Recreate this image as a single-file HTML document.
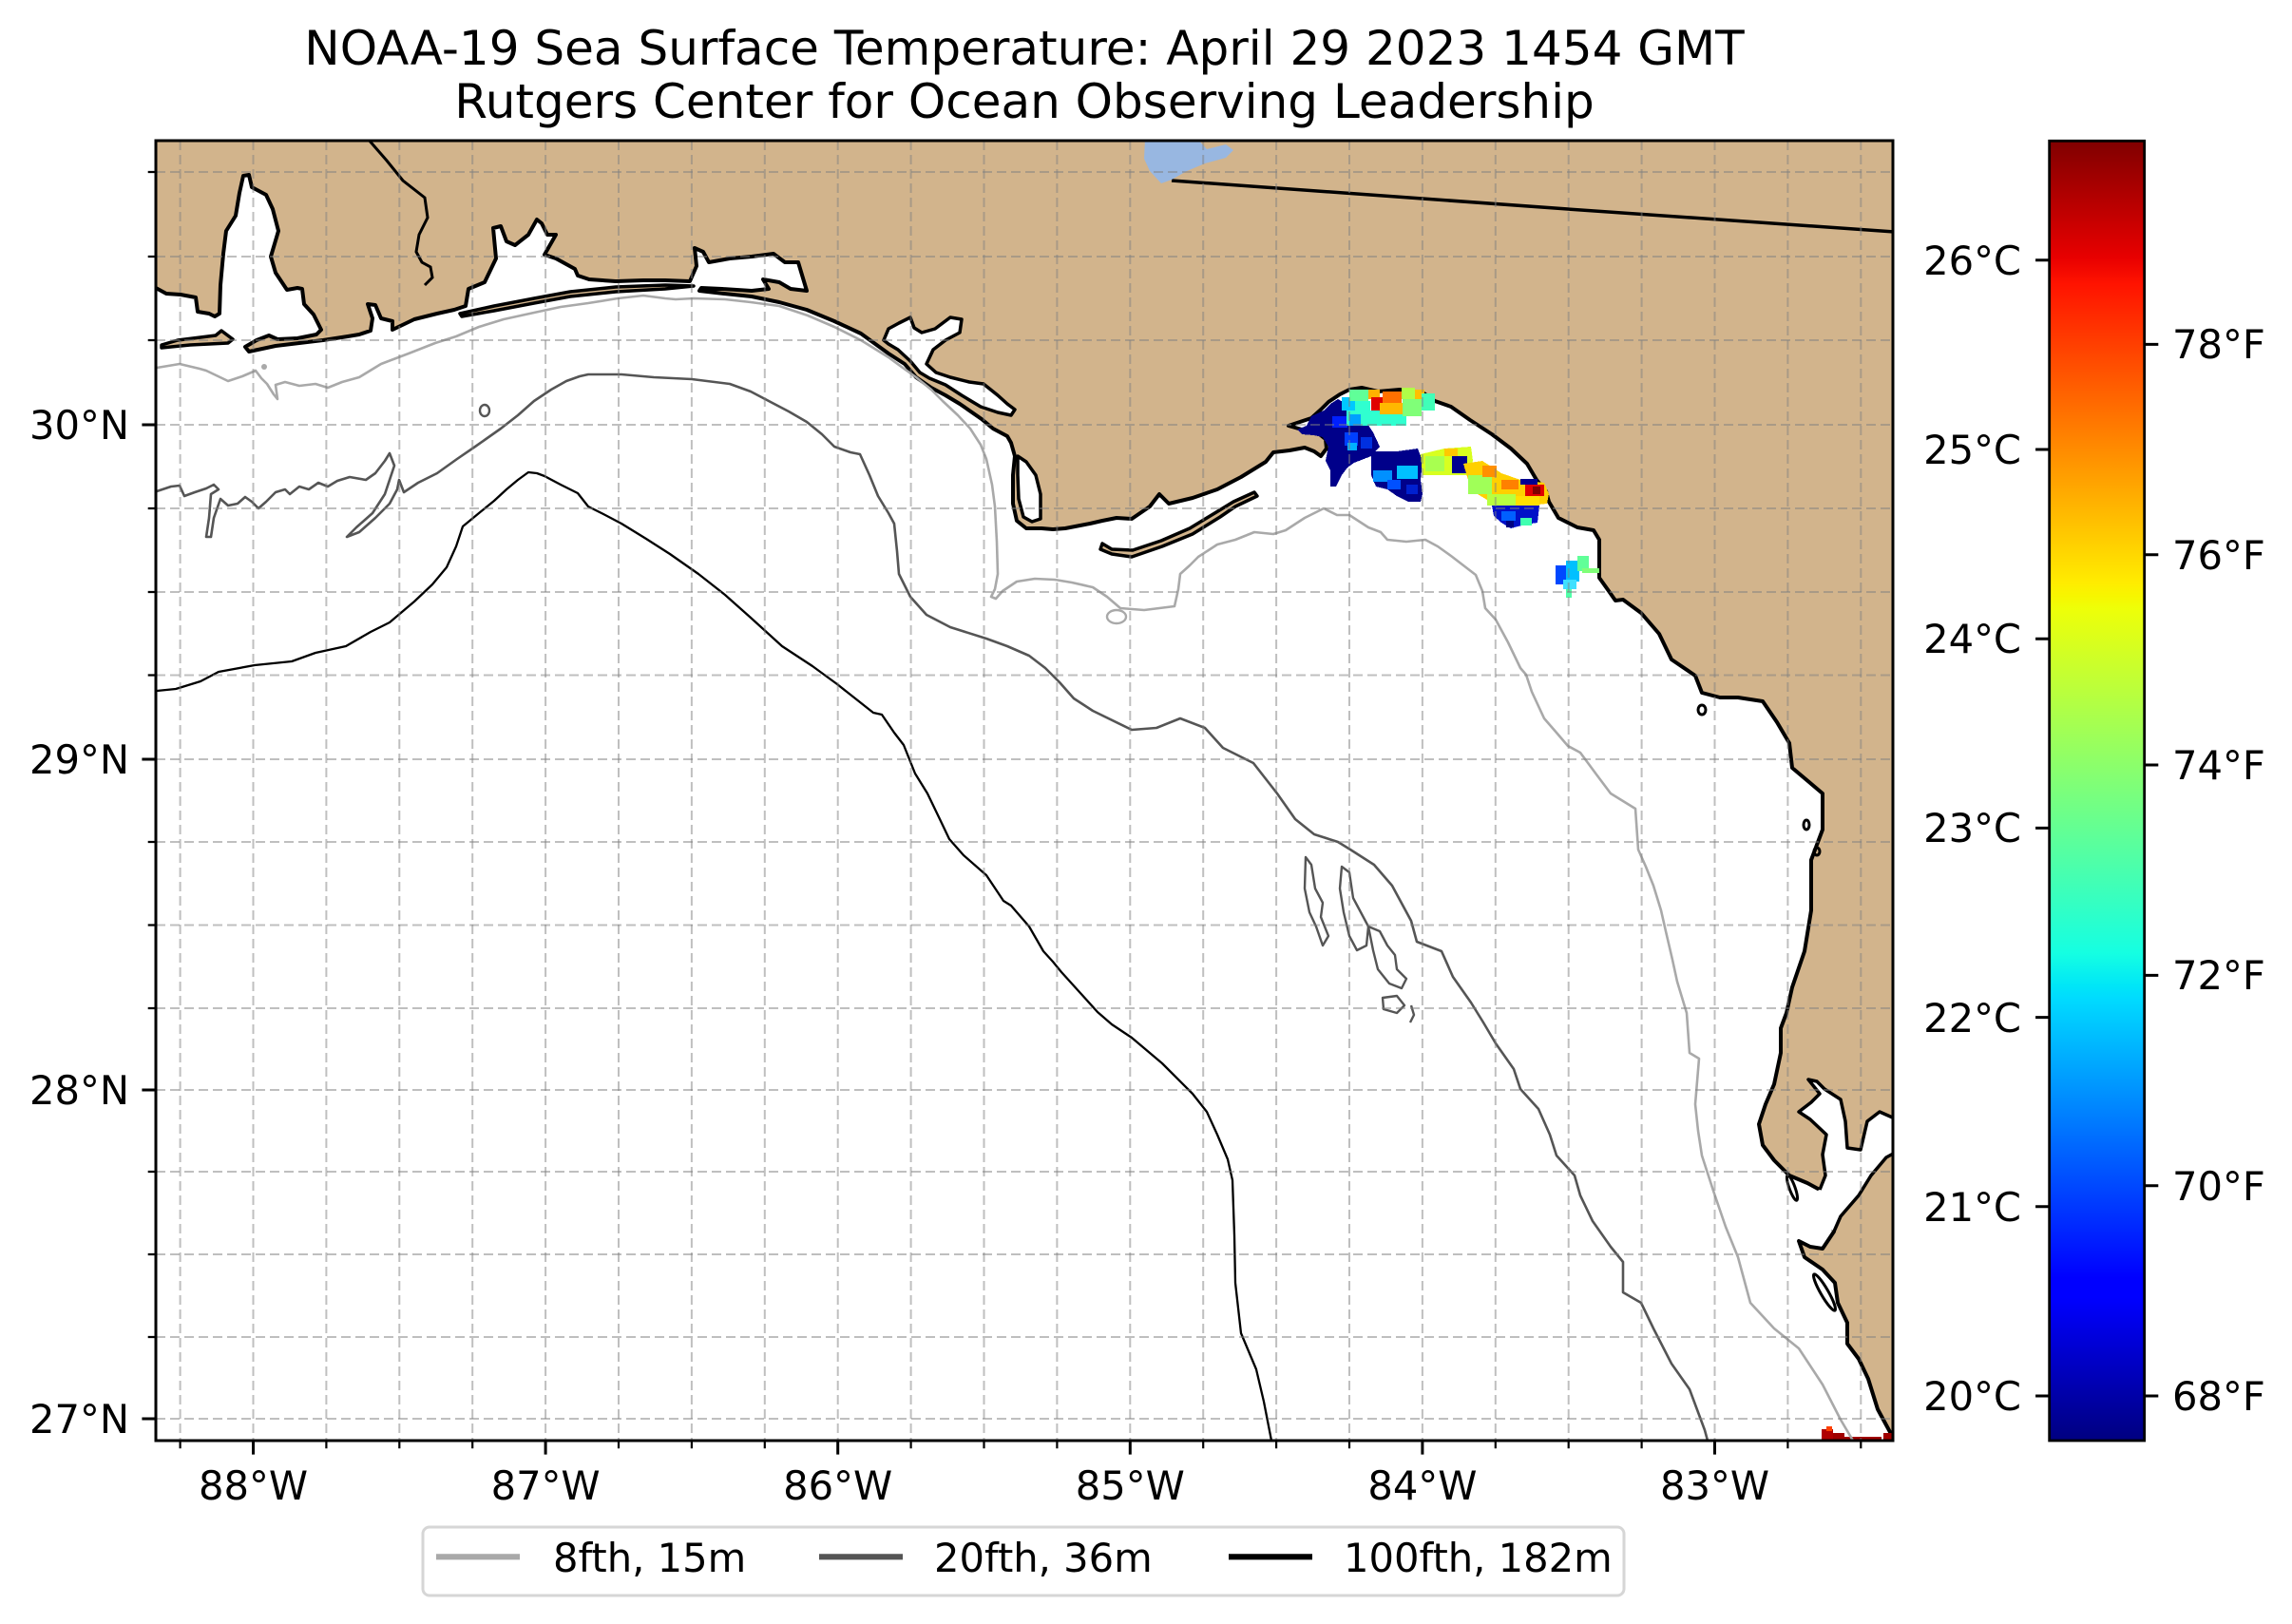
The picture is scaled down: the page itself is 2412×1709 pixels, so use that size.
<!DOCTYPE html>
<html><head><meta charset="utf-8"><style>
html,body{margin:0;padding:0;background:#fff;}
svg{display:block;}
text{font-family:"DejaVu Sans","Liberation Sans",sans-serif;fill:#000;}
</style></head><body>
<svg width="2412" height="1709" viewBox="0 0 2412 1709" xmlns="http://www.w3.org/2000/svg">
<defs>
<clipPath id="ax"><rect x="164" y="148" width="1828" height="1368"/></clipPath>
<linearGradient id="jet" x1="0" y1="1" x2="0" y2="0">
<stop offset="0" stop-color="#000080"/><stop offset="0.11" stop-color="#0000ff"/><stop offset="0.125" stop-color="#0000ff"/>
<stop offset="0.34" stop-color="#00dbff"/><stop offset="0.35" stop-color="#00e6f7"/><stop offset="0.375" stop-color="#15ffe2"/>
<stop offset="0.64" stop-color="#eeff08"/><stop offset="0.65" stop-color="#f7f600"/><stop offset="0.66" stop-color="#ffec00"/>
<stop offset="0.89" stop-color="#ff1300"/><stop offset="0.91" stop-color="#e80000"/><stop offset="1" stop-color="#800000"/>
</linearGradient>
</defs>
<rect width="2412" height="1709" fill="#fff"/>

<text x="1078" y="68" font-size="50" text-anchor="middle">NOAA-19 Sea Surface Temperature: April 29 2023 1454 GMT</text>
<text x="1078" y="124" font-size="50" text-anchor="middle">Rutgers Center for Ocean Observing Leadership</text>

<g clip-path="url(#ax)">
<rect x="164" y="148" width="1828" height="1368" fill="#fff"/>
<!-- land -->
<polygon fill="#d2b48c" stroke="#000" stroke-width="4" stroke-linejoin="round" points="164,303 175,309 190,310 206,313 208,328 220,330 226,333 231,330 232,300 235,267 238,243 248,227 252,203 256,185 262,184 265,197 280,205 287,220 293,243 285,270 290,287 302,305 313,303 318,304 320,320 330,331 338,347 333,352 313,356 292,357 283,353 270,358 258,365 262,370 290,364 315,361 340,358 366,354 378,352 390,348 392,335 387,320 395,321 401,335 413,338 413,347 436,336 460,330 478,326 490,322 493,304 510,297 522,272 519,240 527,238 533,254 542,258 556,247 565,231 570,235 576,247 585,247 573,268 585,272 605,283 608,290 620,294 648,296 677,295 700,295 726,296 733,280 731,261 740,265 746,276 768,272 791,270 814,267 826,276 840,276 849,306 832,304 820,297 803,294 809,304 791,306 760,304 738,303 736,306 762,309 791,312 820,318 849,326 878,338 906,351 935,372 952,383 964,397 980,408 995,416 1010,425 1033,441 1045,451 1060,459 1064,466 1068,480 1066,500 1066,530 1070,548 1080,556 1096,556 1108,557 1121,556 1147,551 1160,548 1175,545 1191,546 1210,533 1220,520 1230,530 1255,524 1281,515 1306,502 1332,486 1340,476 1357,474 1373,471 1383,475 1390,480 1396,472 1395,462 1386,455 1370,452 1356,448 1368,444 1380,440 1390,431 1398,423 1410,415 1420,410 1433,408 1450,412 1473,410 1497,413 1510,422 1527,428 1547,442 1570,457 1590,472 1607,488 1617,505 1627,517 1630,528 1640,545 1660,555 1677,558 1683,568 1683,595 1683,608 1693,622 1700,632 1708,631 1727,645 1746,667 1759,694 1784,711 1791,729 1810,734 1829,734 1855,738 1870,760 1883,782 1886,808 1905,824 1918,835 1918,873 1906,905 1906,958 1899,1001 1886,1039 1880,1066 1874,1082 1874,1108 1867,1141 1858,1162 1851,1183 1855,1205 1867,1221 1883,1237 1902,1245 1915,1252 1925,1275 1930,1296 1918,1314 1905,1312 1893,1306 1899,1323 1918,1336 1931,1350 1934,1371 1944,1392 1944,1414 1956,1430 1966,1451 1976,1483 1996,1520 1996,144 160,144 160,303"/>
<!-- bays -->
<polygon fill="#fff" stroke="#000" stroke-width="3.5" stroke-linejoin="round" points="930,358 935,346 946,340 958,334 962,345 970,350 984,346 1000,334 1012,336 1010,350 995,358 982,368 975,383 985,392 1000,397 1020,402 1035,404 1050,416 1060,425 1068,431 1064,437 1050,434 1032,428 1012,416 995,405 978,398 968,392 958,380 945,368 935,362"/>
<polygon fill="#fff" stroke="#000" stroke-width="3.5" stroke-linejoin="round" points="1071,480 1080,486 1090,500 1095,520 1095,546 1086,549 1077,544 1072,525 1071,500"/>
<polygon fill="#fff" points="1915,1252 1921,1237 1918,1215 1922,1194 1905,1178 1893,1170 1906,1160 1915,1151 1903,1136 1912,1138 1920,1146 1937,1157 1942,1180 1944,1208 1958,1210 1965,1180 1978,1170 1996,1178 1996,1212 1985,1218 1969,1237 1956,1258 1937,1280 1930,1296 1910,1280 1908,1255"/>
<polyline fill="none" stroke="#000" stroke-width="3.5" stroke-linejoin="round" points="1915,1252 1921,1237 1918,1215 1922,1194 1905,1178 1893,1170 1906,1160 1915,1151 1903,1136 1912,1138 1920,1146 1937,1157 1942,1180 1944,1208 1958,1210 1965,1180 1978,1170 1996,1178"/>
<polyline fill="none" stroke="#000" stroke-width="3.5" stroke-linejoin="round" points="1996,1212 1985,1218 1969,1237 1956,1258 1937,1280 1930,1296"/>
<!-- islands -->
<g fill="#d2b48c" stroke="#000" stroke-width="3.5" stroke-linejoin="round">
<polygon points="170,363 187,358 227,353 233,348 245,357 240,361 200,363 170,366"/>
<polygon points="484,330 520,322 562,314 600,307 648,302 700,300 730,301 700,304 648,307 600,312 562,319 520,327 486,333"/>
<polygon points="1158,578 1170,583 1191,586 1223,575 1255,562 1284,544 1300,533 1323,522 1320,518 1298,528 1280,539 1252,556 1222,569 1192,579 1170,578 1160,572"/>
</g>
<g fill="none" stroke="#000" stroke-width="3">
<ellipse cx="1791" cy="747" rx="4" ry="5"/>
<ellipse cx="1901" cy="868" rx="3" ry="5"/>
<ellipse cx="1912" cy="896" rx="3" ry="4"/>
<ellipse cx="1886" cy="1250" rx="3" ry="14" transform="rotate(-20 1886 1250)"/>
<ellipse cx="1920" cy="1360" rx="4" ry="22" transform="rotate(-30 1920 1360)"/>
</g>

<!-- SST -->
<g shape-rendering="crispEdges">
<polygon fill="#00008a" points="1380,438 1393,432 1400,425 1408,420 1420,427 1435,440 1445,455 1452,470 1443,480 1425,487 1418,492 1412,500 1406,512 1400,512 1400,495 1395,485 1398,470 1392,460 1382,458 1370,457 1365,452 1375,448"/>
<rect x="1402" y="438" width="16" height="12" fill="#0020ff"/>
<rect x="1415" y="455" width="14" height="14" fill="#0040ff"/>
<rect x="1418" y="466" width="10" height="8" fill="#00b0ff"/>
<rect x="1432" y="460" width="12" height="12" fill="#0030e0"/>
<rect x="1412" y="418" width="14" height="14" fill="#00c8ff"/>
<rect x="1420" y="410" width="20" height="12" fill="#60ff98"/>
<rect x="1426" y="422" width="16" height="16" fill="#30ffd0"/>
<rect x="1417" y="432" width="63" height="16" fill="#30ffd0"/>
<rect x="1420" y="436" width="12" height="12" fill="#00a0ff"/>
<rect x="1440" y="410" width="12" height="10" fill="#ffb000"/>
<rect x="1455" y="412" width="20" height="12" fill="#ff7000"/>
<rect x="1443" y="418" width="12" height="14" fill="#e00000"/>
<rect x="1452" y="424" width="24" height="12" fill="#ffb800"/>
<rect x="1475" y="408" width="14" height="12" fill="#b0ff48"/>
<rect x="1476" y="420" width="20" height="18" fill="#80ff78"/>
<rect x="1489" y="410" width="10" height="10" fill="#ffc000"/>
<rect x="1496" y="414" width="14" height="18" fill="#40ffb8"/>
<polygon fill="#00008a" points="1443,475 1470,475 1492,472 1497,485 1495,505 1497,520 1495,528 1482,528 1470,522 1460,515 1448,512 1443,500"/>
<rect x="1445" y="495" width="20" height="12" fill="#0090ff"/>
<rect x="1470" y="490" width="22" height="14" fill="#00c0ff"/>
<rect x="1460" y="505" width="14" height="10" fill="#0050ff"/>
<rect x="1480" y="510" width="12" height="10" fill="#0020d0"/>
<polygon fill="#d8ff20" points="1495,478 1520,472 1548,470 1550,485 1545,500 1520,500 1497,500"/>
<rect x="1500" y="480" width="20" height="16" fill="#a8ff50"/>
<rect x="1520" y="472" width="14" height="8" fill="#ffc800"/>
<rect x="1528" y="480" width="16" height="18" fill="#000090"/>
<polygon fill="#ffd000" points="1540,488 1560,485 1580,498 1600,505 1625,508 1630,520 1628,530 1600,533 1575,532 1555,520 1545,505"/>
<rect x="1545" y="500" width="25" height="20" fill="#a0ff58"/>
<rect x="1560" y="490" width="15" height="12" fill="#ff9000"/>
<rect x="1580" y="505" width="18" height="10" fill="#ff8000"/>
<rect x="1600" y="504" width="18" height="6" fill="#000090"/>
<rect x="1605" y="510" width="20" height="12" fill="#e00000"/>
<rect x="1613" y="512" width="8" height="8" fill="#800000"/>
<rect x="1565" y="520" width="30" height="12" fill="#b8ff40"/>
<rect x="1595" y="522" width="25" height="10" fill="#ffe000"/>
<polygon fill="#0010c8" points="1570,532 1620,532 1618,550 1605,552 1590,556 1580,550 1572,543"/>
<rect x="1580" y="538" width="15" height="10" fill="#0060ff"/>
<rect x="1600" y="545" width="12" height="8" fill="#40ffb0"/>
<rect x="1585" y="548" width="8" height="7" fill="#000080"/>
<rect x="1637" y="595" width="13" height="20" fill="#0048ff"/>
<rect x="1648" y="590" width="14" height="22" fill="#00c0ff"/>
<rect x="1660" y="585" width="12" height="16" fill="#60ff98"/>
<rect x="1665" y="598" width="18" height="5" fill="#80ff78"/>
<rect x="1645" y="610" width="14" height="10" fill="#40e0ff"/>
<rect x="1648" y="620" width="6" height="9" fill="#50ffa8"/>
<rect x="1917" y="1504" width="12" height="12" fill="#b00000"/>
<rect x="1922" y="1501" width="6" height="5" fill="#ff4000"/>
<rect x="1929" y="1508" width="12" height="8" fill="#a00000"/>
<rect x="1940" y="1512" width="40" height="4" fill="#a00000"/>
<rect x="1982" y="1508" width="10" height="8" fill="#a00000"/>
</g>

<!-- contours -->
<g fill="none" stroke-linejoin="round">
<polyline stroke="#a9a9a9" stroke-width="2.6" points="165,387 189,383 210,388 217,390 240,401 255,396 269,390 275,398 281,404 288,415 292,420 290,405 300,402 315,406 332,404 345,408 360,402 378,397 401,383 430,372 458,361 480,354 504,344 530,336 562,329 590,323 619,319 650,314 677,311 700,314 711,315 730,314 763,315 790,318 820,322 850,332 878,344 906,358 935,376 950,387 964,397 980,410 992,422 1008,437 1021,451 1032,468 1038,483 1044,510 1047,533 1049,570 1050,604 1047,620 1043,628 1048,630 1055,622 1070,612 1089,609 1110,610 1128,613 1150,618 1165,628 1179,640 1204,642 1236,638 1240,620 1242,604 1252,595 1261,586 1281,573 1300,568 1320,560 1340,562 1353,558 1373,545 1393,535 1407,542 1420,542 1440,555 1453,560 1460,568 1480,570 1500,568 1513,575 1527,585 1540,595 1553,605 1560,622 1563,640 1574,652 1587,676 1600,703 1606,710 1612,728 1625,756 1638,771 1650,785 1663,792 1680,815 1695,835 1721,851 1724,894 1732,912 1740,932 1748,958 1753,980 1760,1010 1765,1033 1775,1066 1778,1108 1788,1114 1784,1162 1787,1190 1791,1216 1803,1253 1816,1291 1829,1323 1842,1371 1867,1398 1893,1419 1918,1457 1937,1494 1950,1516"/>
<ellipse cx="1175" cy="649" rx="10" ry="7" stroke="#a9a9a9" stroke-width="2.4"/>
<circle cx="278" cy="386" r="3" fill="#a9a9a9" stroke="none"/>
<polyline stroke="#555" stroke-width="2.6" points="165,517 180,512 189,511 194,522 205,518 217,514 225,510 230,515 222,520 220,545 217,565 222,565 225,545 232,525 240,532 250,530 258,523 265,528 272,535 280,528 290,518 300,515 305,520 315,512 325,515 335,508 345,512 355,506 368,502 385,505 395,498 405,485 410,477 415,490 410,505 405,520 392,540 375,555 365,565 378,560 395,545 410,530 418,515 420,505 425,518 440,508 460,498 481,483 500,470 527,451 545,437 562,422 580,410 596,401 610,396 619,394 654,394 688,397 728,399 768,404 790,412 809,422 830,433 849,444 865,457 878,470 895,476 905,478 915,500 924,522 935,540 941,551 944,580 946,604 958,628 975,647 1000,660 1038,672 1060,680 1083,690 1100,703 1115,718 1130,735 1150,748 1191,768 1217,766 1242,756 1268,766 1287,787 1319,803 1344,835 1363,862 1383,878 1408,886 1421,894 1446,910 1465,932 1485,969 1491,991 1517,1001 1529,1028 1548,1055 1561,1076 1574,1098 1593,1125 1600,1146 1619,1167 1631,1194 1638,1216 1657,1237 1663,1258 1676,1285 1695,1312 1708,1328 1708,1360 1727,1371 1740,1398 1759,1435 1778,1462 1794,1505 1797,1516"/>
<ellipse cx="510" cy="432" rx="5" ry="6" stroke="#555" stroke-width="2.4"/>
<g stroke="#555" stroke-width="2.4">
<polygon points="1374,902 1380,910 1384,935 1392,950 1390,965 1398,985 1392,995 1385,975 1378,960 1373,935"/>
<polygon points="1412,912 1420,918 1424,945 1432,960 1440,975 1438,995 1428,1000 1420,985 1414,960 1410,935"/>
<polygon points="1440,975 1452,980 1460,995 1468,1005 1470,1020 1480,1030 1475,1040 1462,1035 1450,1020 1445,1000"/>
<polygon points="1455,1050 1470,1048 1478,1058 1470,1066 1456,1062"/>
<polyline points="1485,1058 1488,1068 1484,1076"/>
</g>
<polyline stroke="#000" stroke-width="2.3" points="165,727 185,725 211,717 230,707 268,700 307,696 332,687 364,680 390,665 410,655 436,633 455,615 470,597 480,575 487,554 504,540 520,527 533,515 545,505 556,497 565,498 573,501 590,510 608,519 619,533 635,541 654,551 680,567 705,583 735,604 763,626 790,650 823,680 855,701 881,720 919,750 928,752 941,771 951,784 963,814 976,835 989,862 999,883 1014,900 1038,921 1056,948 1064,953 1083,975 1098,1001 1108,1012 1117,1023 1136,1044 1155,1065 1170,1078 1191,1092 1223,1119 1255,1151 1270,1170 1281,1194 1292,1220 1297,1242 1299,1300 1300,1350 1306,1403 1322,1441 1330,1475 1338,1516"/>
</g>

<!-- borders & lake -->
<polyline fill="none" stroke="#000" stroke-width="3" points="387,146 407,169 424,190 447,208 450,229 441,247 438,265 444,276 453,281 455,292 447,300"/>
<polyline fill="none" stroke="#000" stroke-width="3.5" points="1233,190 1497,209 1650,220 1994,244"/>
<polygon fill="#98b7e1" points="1205,146 1204,167 1210,180 1222,193 1233,189 1249,180 1268,172 1290,166 1298,158 1290,152 1270,157 1260,146"/>

<!-- gridlines -->
<g stroke="#808080" stroke-opacity="0.5" stroke-width="2" stroke-dasharray="10,5" fill="none">
<path d="M189.6 148V1516M266.5 148V1516M343.4 148V1516M420.3 148V1516M497.2 148V1516M574.1 148V1516M651 148V1516M727.9 148V1516M804.8 148V1516M881.7 148V1516M958.6 148V1516M1035.5 148V1516M1112.4 148V1516M1189.3 148V1516M1266.2 148V1516M1343.1 148V1516M1420 148V1516M1496.9 148V1516M1573.8 148V1516M1650.7 148V1516M1727.6 148V1516M1804.5 148V1516M1881.4 148V1516M1958.3 148V1516"/>
<path d="M164 181H1992M164 270H1992M164 358H1992M164 447H1992M164 535H1992M164 623H1992M164 710.5H1992M164 799H1992M164 886H1992M164 973.5H1992M164 1061H1992M164 1147H1992M164 1233H1992M164 1320H1992M164 1407H1992M164 1493H1992"/>
</g>
</g>

<!-- frame -->
<rect x="164" y="148" width="1828" height="1368" fill="none" stroke="#000" stroke-width="3"/>

<!-- ticks -->
<g stroke="#000" stroke-width="3">
<path d="M266.5 1516v14.6M574.1 1516v14.6M881.7 1516v14.6M1189.3 1516v14.6M1496.9 1516v14.6M1804.5 1516v14.6"/>
<path d="M164 447h-14.6M164 799h-14.6M164 1147h-14.6M164 1493h-14.6"/>
</g>
<g stroke="#000" stroke-width="2.2">
<path d="M189.6 1516v8.3M343.4 1516v8.3M420.3 1516v8.3M497.2 1516v8.3M651 1516v8.3M727.9 1516v8.3M804.8 1516v8.3M958.6 1516v8.3M1035.5 1516v8.3M1112.4 1516v8.3M1266.2 1516v8.3M1343.1 1516v8.3M1420 1516v8.3M1573.8 1516v8.3M1650.7 1516v8.3M1727.6 1516v8.3M1881.4 1516v8.3M1958.3 1516v8.3"/>
<path d="M164 181h-8.3M164 270h-8.3M164 358h-8.3M164 535h-8.3M164 623h-8.3M164 710.5h-8.3M164 886h-8.3M164 973.5h-8.3M164 1061h-8.3M164 1233h-8.3M164 1320h-8.3M164 1407h-8.3"/>
</g>
<g font-size="41.67" text-anchor="middle">
<text x="266.5" y="1578">88°W</text>
<text x="574.1" y="1578">87°W</text>
<text x="881.7" y="1578">86°W</text>
<text x="1189.3" y="1578">85°W</text>
<text x="1496.9" y="1578">84°W</text>
<text x="1804.5" y="1578">83°W</text>
</g>
<g font-size="41.67" text-anchor="end">
<text x="136" y="462">30°N</text>
<text x="136" y="814">29°N</text>
<text x="136" y="1162">28°N</text>
<text x="136" y="1508">27°N</text>
</g>

<!-- colorbar -->
<rect x="2156.7" y="148.3" width="100" height="1367.7" fill="url(#jet)" stroke="#000" stroke-width="2.8"/>
<g stroke="#000" stroke-width="3">
<path d="M2156.7 1469h-14.6M2156.7 1269.8h-14.6M2156.7 1070.6h-14.6M2156.7 871.4h-14.6M2156.7 672.2h-14.6M2156.7 473h-14.6M2156.7 273.8h-14.6"/>
<path d="M2256.7 1469h14.6M2256.7 1247.7h14.6M2256.7 1026.4h14.6M2256.7 805h14.6M2256.7 583.7h14.6M2256.7 362.4h14.6"/>
</g>
<g font-size="41.67" text-anchor="end">
<text x="2127" y="1484">20°C</text>
<text x="2127" y="1285">21°C</text>
<text x="2127" y="1086">22°C</text>
<text x="2127" y="886">23°C</text>
<text x="2127" y="687">24°C</text>
<text x="2127" y="488">25°C</text>
<text x="2127" y="289">26°C</text>
</g>
<g font-size="41.67">
<text x="2286" y="1484">68°F</text>
<text x="2286" y="1263">70°F</text>
<text x="2286" y="1041">72°F</text>
<text x="2286" y="820">74°F</text>
<text x="2286" y="599">76°F</text>
<text x="2286" y="377">78°F</text>
</g>

<!-- legend -->
<rect x="445" y="1607" width="1264" height="72" rx="7" ry="7" fill="#fff" stroke="#d6d6d6" stroke-width="3"/>
<line x1="459" y1="1638.3" x2="547" y2="1638.3" stroke="#a9a9a9" stroke-width="6.2"/>
<line x1="862" y1="1638.3" x2="950" y2="1638.3" stroke="#555" stroke-width="6.2"/>
<line x1="1293" y1="1638.3" x2="1381" y2="1638.3" stroke="#000" stroke-width="6.2"/>
<g font-size="41.67">
<text x="582" y="1654">8fth, 15m</text>
<text x="983" y="1654">20fth, 36m</text>
<text x="1414" y="1654">100fth, 182m</text>
</g>
</svg>
</body></html>
